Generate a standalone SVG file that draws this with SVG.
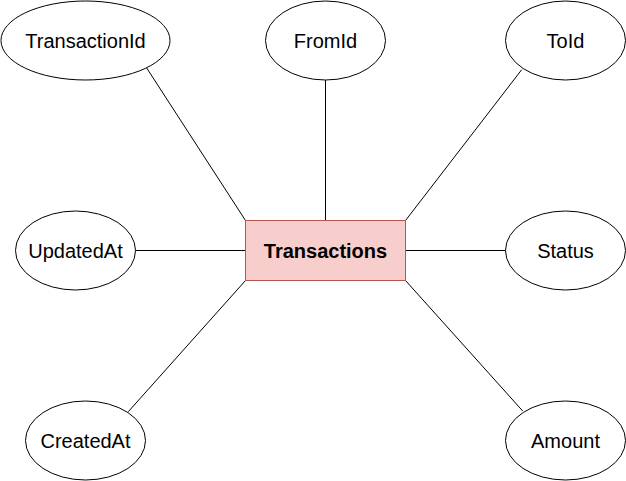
<svg xmlns="http://www.w3.org/2000/svg" width="626" height="481" viewBox="0 0 626 481">
<style>
.attr ellipse{fill:#fff;stroke:#000;stroke-width:1}
.attr text,.entity text{font-family:"Liberation Sans",Arial,sans-serif;font-size:20px;fill:#000;text-anchor:middle}
.entity rect{fill:#f8cecc;stroke:#b85450;stroke-width:1}
.entity text{font-weight:bold}
#connectors line{stroke:#000;stroke-width:1}
</style>
<rect width="626" height="481" fill="#fff"/>
<g id="connectors">
<line x1="146.7" y1="68" x2="245.5" y2="220.5"/>
<line x1="325.5" y1="80" x2="325.5" y2="220.5"/>
<line x1="521.7" y1="69.7" x2="405.5" y2="220.5"/>
<line x1="135.5" y1="250.5" x2="245.5" y2="250.5"/>
<line x1="405.5" y1="250.5" x2="505.5" y2="250.5"/>
<line x1="128.3" y1="411.7" x2="245.5" y2="280.5"/>
<line x1="405.5" y1="280.5" x2="522.7" y2="411"/>
</g>
<g id="TransactionId" class="attr"><ellipse cx="85.5" cy="40.5" rx="84.5" ry="39.5"/><text x="85.5" y="48.3">TransactionId</text></g>
<g id="FromId" class="attr"><ellipse cx="325.5" cy="40.5" rx="60" ry="39.5"/><text x="325.5" y="48.3">FromId</text></g>
<g id="ToId" class="attr"><ellipse cx="565.5" cy="40.5" rx="60" ry="39.5"/><text x="565.5" y="48.3">ToId</text></g>
<g id="UpdatedAt" class="attr"><ellipse cx="75.5" cy="250.5" rx="60" ry="39.5"/><text x="75.5" y="258.3">UpdatedAt</text></g>
<g id="Status" class="attr"><ellipse cx="565.5" cy="250.5" rx="60" ry="39.5"/><text x="565.5" y="258.3">Status</text></g>
<g id="CreatedAt" class="attr"><ellipse cx="85.5" cy="440.5" rx="60" ry="39.5"/><text x="85.5" y="448.3">CreatedAt</text></g>
<g id="Amount" class="attr"><ellipse cx="565.5" cy="440.5" rx="60" ry="39.5"/><text x="565.5" y="448.3">Amount</text></g>
<g id="Transactions" class="entity"><rect x="245.5" y="220.5" width="160" height="60"/><text x="325.5" y="258.3">Transactions</text></g>
</svg>
